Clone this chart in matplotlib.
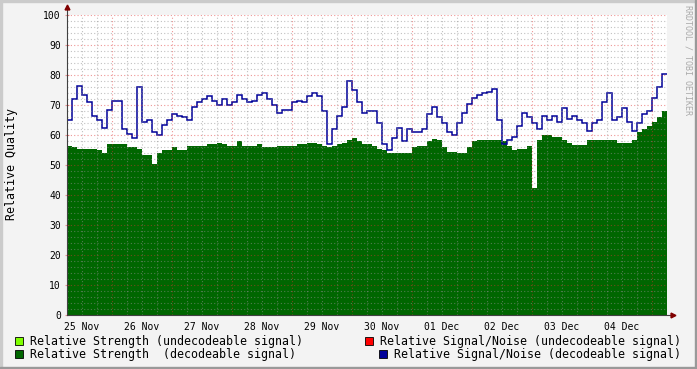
import matplotlib
matplotlib.use('Agg')
import matplotlib.pyplot as plt
import numpy as np
from matplotlib.patches import Rectangle

# one sample every 2 hours, starting 24 Nov 18:00
strength = [56.5, 56, 55.5, 55.5, 55.5, 55.5, 55, 54, 57, 57, 57, 57, 56, 56, 55.5,
            53.5, 53.5, 50.5, 54, 55, 55, 56, 55, 55, 56.5, 56.5, 56.5, 56.5, 57,
            57, 57.5, 57, 56.5, 56.5, 58, 56.5, 56.5, 56.5, 57, 56, 56, 56, 56.5, 56.5,
            56.5, 56.5, 57, 57, 57.5, 57.5, 57, 56.5, 56, 56.5, 57, 57.5, 58.5, 59, 58,
            57, 57, 56.5, 55.5, 55, 54, 54, 54, 54, 54, 56, 56.5, 56.5, 58, 58.7,
            58.5, 56, 54.5, 54.5, 54, 54, 56, 58, 58.5, 58.5, 58.5, 58.5, 58.5, 58,
            56.5, 55, 55.5, 55.5, 56.5, 42.5, 58.5, 60, 60, 59.5, 59.5, 58.5, 57.5, 56.7,
            56.7, 56.7, 58.5, 58.5, 58.5, 58.5, 58.5, 58.5, 57.5, 57.5, 57.3, 58.3, 61, 62,
            63, 64.5, 66, 68]
snr = [65, 72, 76.5, 73.5, 71, 66.5, 65, 62.5, 68.5, 71.5, 71.5, 62, 60.5, 59, 76,
       64.5, 65, 61, 60, 63.5, 65, 67, 66.5, 66, 65, 69.5, 71, 72, 73,
       71.5, 70, 72, 70, 71, 73.5, 72, 71, 71.5, 73.5, 74, 72, 70, 67.5, 68.5,
       68.5, 71, 71.5, 71, 73, 74, 73, 68, 57, 62, 66.5, 69.5, 78, 75, 71,
       67.5, 68, 68, 64, 57, 55, 59, 62.5, 58, 62, 61, 61, 62, 67, 69.5,
       66, 64, 61, 60, 64, 67.5, 70.5, 72.5, 73.5, 74, 74.5, 75.5, 65, 57,
       58.5, 59.5, 63, 67.5, 66, 64, 62, 66.5, 65, 66.5, 64.5, 69, 65.5, 66.5,
       65, 64, 61.5, 64, 65, 71, 74, 65, 66, 69, 64.5, 61.5, 64, 67,
       68, 72.5, 76, 80.5]
day_labels = ['25 Nov', '26 Nov', '27 Nov', '28 Nov', '29 Nov',
              '30 Nov', '01 Dec', '02 Dec', '03 Dec', '04 Dec']
y_ticks = list(range(0, 101, 10))

mono = 'DejaVu Sans Mono'
W, H = 697, 369

t_edges = np.arange(len(strength) + 1) * 2 / 24

fig = plt.figure(figsize=(W / 100, H / 100), dpi=100, facecolor='#F3F3F3')
ax = fig.add_axes([67 / W, 54 / H, 600 / W, 300 / H])
ax.set_facecolor('white')

ax.stairs(strength, t_edges, fill=True, color='#006600', zorder=1)
ax.stairs(snr, t_edges, baseline=None, color='#000099', lw=1.1, zorder=2)

ax.set_xlim(0, 10)
ax.set_ylim(0, 100)

# grid (drawn in front, like rrdtool)
grey = (0.56, 0.56, 0.56, 0.55)
red = (0.87, 0.19, 0.19, 0.5)
dots = (0, (1, 2))
for v in np.arange(2, 101, 2):
    ax.axhline(v, color=red if v % 10 == 0 else grey, lw=0.8, ls=dots, zorder=3)
for t in np.arange(0.25, 10.01, 0.25):
    is_major = abs((t - 0.75) % 1) < 1e-6
    ax.axvline(t, color=red if is_major else grey, lw=0.8, ls=dots, zorder=3)

for s in ax.spines.values():
    s.set_visible(False)

ax.set_xticks([0.25 + i for i in range(len(day_labels))])
ax.set_xticklabels(day_labels, family=mono, fontsize=7)
ax.set_yticks(y_ticks)
ax.set_yticklabels([str(v) for v in y_ticks], family=mono, fontsize=7)
ax.tick_params(axis='x', length=0, pad=5)
ax.tick_params(axis='y', length=3, direction='inout', color=red, pad=3)

# axis lines with arrows
ax.plot([0, 0], [0, 1.027], color='#404040', lw=0.8, transform=ax.transAxes, clip_on=False, zorder=4)
ax.plot([0, 1.01], [0, 0], color='#404040', lw=0.8, transform=ax.transAxes, clip_on=False, zorder=4)
ax.plot([0], [1.027], marker='^', color='#800000', ms=3.5, transform=ax.transAxes, clip_on=False, zorder=5)
ax.plot([1.01], [0], marker='>', color='#800000', ms=3.5, transform=ax.transAxes, clip_on=False, zorder=5)

fig.text(12 / W, 1 - 164 / H, 'Relative Quality', rotation=90, family=mono, fontsize=8.4,
         ha='center', va='center')
fig.text(688 / W, 1 - 5 / H, 'RRDTOOL / TOBI OETIKER', rotation=270, family=mono, fontsize=6,
         color='#AAAAAA', ha='center', va='top')

# legend
legend = [
    ('#7FFF00', 15, 337, 30, 'Relative Strength (undecodeable signal)'),
    ('#006600', 15, 350, 30, 'Relative Strength  (decodeable signal)'),
    ('#FF0000', 365, 337, 380, 'Relative Signal/Noise (undecodeable signal)'),
    ('#000099', 379, 350, 394, 'Relative Signal/Noise (decodeable signal)'),
]
for color, bx, by, tx, label in legend:
    fig.add_artist(Rectangle((bx / W, 1 - (by + 8) / H), 8 / W, 8 / H, transform=fig.transFigure,
                             facecolor=color, edgecolor='black', lw=0.6))
    fig.text(tx / W, 1 - (by + 4.5) / H, label, family=mono, fontsize=8.42, ha='left', va='center')

# 3d frame
fig.add_artist(Rectangle((0, 1 - 2 / H), 1, 2 / H, transform=fig.transFigure, color='#CBCBCB'))
fig.add_artist(Rectangle((0, 0), 2 / W, 1, transform=fig.transFigure, color='#CBCBCB'))
fig.add_artist(Rectangle((0, 0), 1, 2 / H, transform=fig.transFigure, color='#999999'))
fig.add_artist(Rectangle((1 - 2 / W, 0), 2 / W, 1, transform=fig.transFigure, color='#999999'))

fig.savefig('out.png', dpi=100, facecolor=fig.get_facecolor())
